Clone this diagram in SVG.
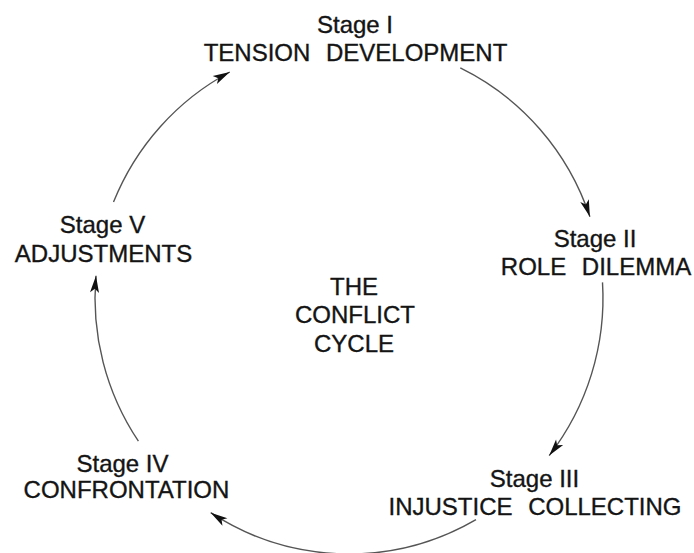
<svg xmlns="http://www.w3.org/2000/svg" width="694" height="553" viewBox="0 0 694 553">
<style>
  text { font-family: "Liberation Sans", Arial, sans-serif; font-size: 24px; fill: #141414; stroke: #141414; stroke-width: 0.35; text-anchor: middle; }
  .wide { word-spacing: 9px; }
  .arc { fill: none; stroke: #555; stroke-width: 1.4; }
</style>
<defs>
  <marker id="ah" markerUnits="userSpaceOnUse" markerWidth="20" markerHeight="12" refX="17" refY="6" orient="auto" overflow="visible">
    <path d="M17,6 L0,1.5 L4,6 L0,10.5 Z" fill="#111"/>
  </marker>
</defs>
<rect width="694" height="553" fill="#fff"/>
<g id="connectors">
  <path class="arc" d="M460.3,67.9 A254,256 0 0 1 589.9,216.8" marker-end="url(#ah)"/>
  <path class="arc" d="M602.5,282.4 A254,256 0 0 1 549.2,455.6" marker-end="url(#ah)"/>
  <path class="arc" d="M476,519.7 A254,256 0 0 1 210.7,512.7" marker-end="url(#ah)"/>
  <path class="arc" d="M138.4,441.2 A254,256 0 0 1 96,275.7" marker-end="url(#ah)"/>
  <path class="arc" d="M113.5,202.1 A254,256 0 0 1 229.8,72" marker-end="url(#ah)"/>
</g>
<g id="stage1">
  <text x="355" y="33">Stage I</text>
  <text class="wide" x="355.5" y="61">TENSION DEVELOPMENT</text>
</g>
<g id="stage2">
  <text x="595" y="247">Stage II</text>
  <text class="wide" x="596" y="275">ROLE DILEMMA</text>
</g>
<g id="stage3">
  <text x="534.5" y="487">Stage III</text>
  <text class="wide" x="535" y="515">INJUSTICE COLLECTING</text>
</g>
<g id="stage4">
  <text x="122.5" y="472">Stage IV</text>
  <text x="126.5" y="498">CONFRONTATION</text>
</g>
<g id="stage5">
  <text x="102.5" y="233">Stage V</text>
  <text x="103.5" y="262">ADJUSTMENTS</text>
</g>
<g id="center">
  <text x="354" y="295">THE</text>
  <text x="355" y="323">CONFLICT</text>
  <text x="354" y="352">CYCLE</text>
</g>
</svg>
